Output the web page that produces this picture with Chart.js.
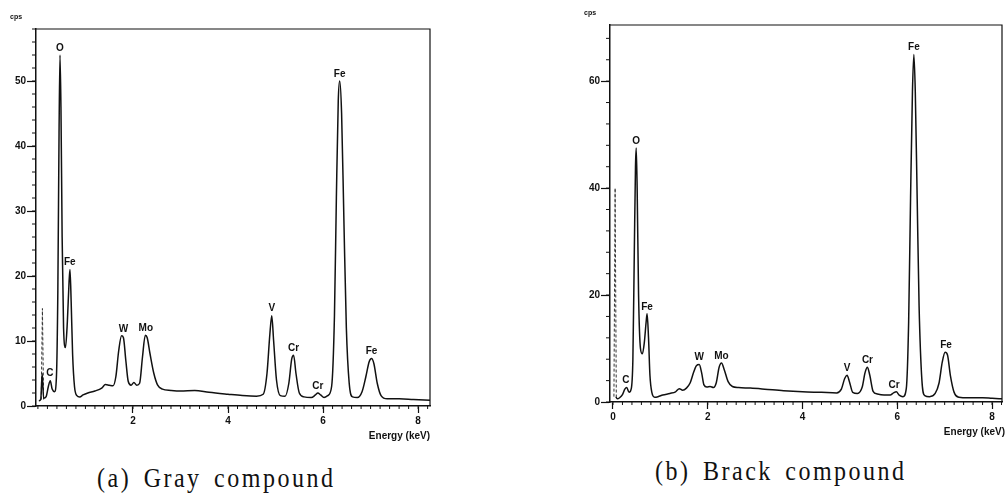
<!DOCTYPE html>
<html>
<head>
<meta charset="utf-8">
<script src="https://cdn.jsdelivr.net/npm/chart.js@4.4.0/dist/chart.umd.min.js"></script>
<style>
  body { margin: 0; background: #fff; width: 1006px; height: 499px; overflow: hidden; position: relative; }
  canvas { position: absolute; top: 0; }
  .caption { position: absolute; font-family: 'Liberation Serif', serif; font-size: 24px; letter-spacing: 2.5px; word-spacing: 4px; color: #111; white-space: nowrap; transform: scaleY(1.1); transform-origin: left top; }
</style>
</head>
<body>
<canvas id="chartA" width="445" height="450" style="left:0"></canvas>
<canvas id="chartB" width="432" height="450" style="left:574px"></canvas>
<div class="caption" style="left:97px; top:464px">(a) Gray compound</div>
<div class="caption" style="left:655px; top:457px">(b) Brack compound</div>
<script>
// (a) Gray compound - spectrum (keV, cps)
const energyA = [0.02, 0.06, 0.09, 0.12, 0.17, 0.22, 0.26, 0.30, 0.35, 0.39, 0.42, 0.445, 0.465, 0.485, 0.51, 0.54, 0.58, 0.62, 0.655, 0.675, 0.70, 0.73, 0.77, 0.82, 0.88, 0.95, 1.05, 1.2, 1.35, 1.42, 1.5, 1.58, 1.64, 1.70, 1.76, 1.80, 1.85, 1.90, 1.96, 2.02, 2.08, 2.14, 2.20, 2.26, 2.30, 2.36, 2.44, 2.52, 2.62, 2.8, 3.0, 3.3, 3.6, 4.0, 4.3, 4.6, 4.74, 4.82, 4.88, 4.92, 4.96, 5.02, 5.10, 5.20, 5.28, 5.34, 5.38, 5.43, 5.50, 5.60, 5.75, 5.84, 5.89, 5.95, 6.02, 6.10, 6.18, 6.24, 6.28, 6.32, 6.35, 6.39, 6.44, 6.49, 6.55, 6.62, 6.72, 6.82, 6.90, 6.97, 7.02, 7.07, 7.14, 7.22, 7.35, 7.6, 7.9, 8.25];
const cpsA = [0.8, 1.0, 5.0, 1.2, 1.4, 3.0, 3.9, 2.6, 2.2, 4.5, 18, 42, 54, 46, 26, 12, 9, 13, 19, 21, 16, 8, 3, 1.6, 1.4, 1.7, 2.0, 2.3, 2.8, 3.3, 3.2, 3.1, 4.5, 8.5, 10.8, 10.5, 7, 3.8, 3.2, 3.6, 3.2, 3.5, 7.5, 10.9, 10.5, 8, 5, 3.2, 2.6, 2.4, 2.3, 2.4, 2.1, 1.8, 1.6, 1.5, 1.8, 5, 11, 13.9, 10, 4, 1.6, 1.5, 3.5, 7.2, 7.8, 5, 2, 1.4, 1.3, 1.7, 2.0, 1.7, 1.3, 1.6, 3, 14, 32, 47, 50, 45, 28, 12, 3.5, 1.4, 1.3, 2.2, 4.5, 6.8, 7.3, 6.5, 3.5, 1.6, 1.1, 1.1, 1.0, 0.9];
const zeroEnergyA = [0.07, 0.095, 0.12];
const zeroCpsA = [1, 15, 1];
const peakNamesA = ['C', 'O', 'Fe', 'W', 'Mo', 'V', 'Cr', 'Cr', 'Fe', 'Fe'];
const peakEnergyA = [0.25, 0.465, 0.67, 1.8, 2.27, 4.92, 5.38, 5.89, 6.35, 7.02];
const peakCpsA = [3.9, 54, 21, 10.8, 10.9, 13.9, 7.8, 2.0, 50, 7.3];
const xTicksA = [2, 4, 6, 8];
const yTicksA = [0, 10, 20, 30, 40, 50];

// (b) Brack compound
const energyB = [0.06, 0.09, 0.14, 0.20, 0.25, 0.29, 0.34, 0.38, 0.42, 0.45, 0.475, 0.49, 0.51, 0.54, 0.58, 0.62, 0.66, 0.70, 0.72, 0.75, 0.78, 0.82, 0.88, 0.95, 1.05, 1.2, 1.32, 1.40, 1.47, 1.55, 1.63, 1.70, 1.76, 1.82, 1.87, 1.92, 1.98, 2.05, 2.12, 2.18, 2.24, 2.29, 2.35, 2.43, 2.52, 2.65, 2.9, 3.2, 3.6, 4.0, 4.4, 4.72, 4.82, 4.89, 4.94, 4.99, 5.06, 5.16, 5.26, 5.32, 5.37, 5.42, 5.49, 5.58, 5.72, 5.85, 5.92, 5.98, 6.04, 6.12, 6.19, 6.24, 6.28, 6.32, 6.35, 6.38, 6.42, 6.46, 6.52, 6.58, 6.68, 6.80, 6.88, 6.95, 7.01, 7.06, 7.12, 7.20, 7.30, 7.5, 7.8, 8.0, 8.21];
const cpsB = [1.0, 0.6, 0.8, 1.4, 2.4, 2.7, 1.8, 2.3, 8, 28, 44, 47.5, 40, 20, 10, 9, 11, 15, 16.5, 12, 5, 1.8, 0.9, 1.0, 1.3, 1.6, 1.9, 2.5, 2.2, 2.6, 3.6, 5.5, 6.8, 7.0, 5.5, 3.2, 2.8, 2.9, 2.7, 3.6, 6.5, 7.3, 6, 3.8, 2.9, 2.7, 2.6, 2.4, 2.1, 1.9, 1.8, 1.7, 2.4, 4.4, 5.0, 3.8, 1.8, 1.6, 2.8, 5.5, 6.5, 5, 2, 1.5, 1.3, 1.3, 1.7, 1.9, 1.3, 1.0, 2.5, 15, 38, 58, 65, 58, 38, 18, 4, 1.2, 1.0, 1.6, 3.5, 7.5, 9.3, 8.8, 5, 1.8, 0.9, 0.8, 0.8, 0.7, 0.6];
const zeroEnergyB = [0.02, 0.045, 0.07];
const zeroCpsB = [1, 40, 1];
const peakNamesB = ['C', 'O', 'Fe', 'W', 'Mo', 'V', 'Cr', 'Cr', 'Fe', 'Fe'];
const peakEnergyB = [0.27, 0.49, 0.72, 1.82, 2.29, 4.94, 5.37, 5.93, 6.35, 7.03];
const peakCpsB = [2.7, 47.5, 16.5, 7.0, 7.3, 5.0, 6.5, 1.9, 65, 9.3];
const xTicksB = [0, 2, 4, 6, 8];
const yTicksB = [0, 20, 40, 60];

const INK = '#111';
const FONT = '"Liberation Sans", Arial, sans-serif';

const edsPlugin = {
    id: 'eds',
    afterDraw(chart, args, opts) {
        const { ctx, chartArea: a, scales: { x, y } } = chart;
        ctx.save();
        ctx.strokeStyle = INK;
        ctx.lineWidth = 1.2;
        // box: top and right edges
        ctx.beginPath();
        ctx.moveTo(a.left, a.top);
        ctx.lineTo(a.right, a.top);
        ctx.lineTo(a.right, a.bottom);
        ctx.stroke();
        // minor ticks
        ctx.lineWidth = 1;
        ctx.beginPath();
        for (let i = 0; i * opts.minorX <= x.max; i++) {
            const px = x.getPixelForValue(i * opts.minorX);
            ctx.moveTo(px, a.bottom);
            ctx.lineTo(px, a.bottom + 3);
        }
        for (let i = 0; i * opts.minorY <= y.max; i++) {
            const py = y.getPixelForValue(i * opts.minorY);
            ctx.moveTo(a.left, py);
            ctx.lineTo(a.left - 4, py);
        }
        ctx.stroke();
        // peak labels
        ctx.fillStyle = INK;
        ctx.font = 'bold 10px ' + FONT;
        ctx.textAlign = 'center';
        ctx.textBaseline = 'bottom';
        opts.names.forEach((n, i) => {
            ctx.fillText(n, x.getPixelForValue(opts.energy[i]), y.getPixelForValue(opts.cps[i]) - 2);
        });
        // axis titles
        ctx.font = 'bold 7px ' + FONT;
        ctx.textAlign = 'left';
        ctx.textBaseline = 'middle';
        ctx.fillText('cps', a.left - 26, a.top - 12);
        ctx.font = 'bold 10px ' + FONT;
        ctx.textAlign = 'right';
        ctx.fillText('Energy (keV)', a.right + opts.titleDx, a.bottom + 30);
        ctx.restore();
    }
};

function makeChart(id, p) {
    return new Chart(document.getElementById(id), {
        type: 'line',
        data: {
            datasets: [{
                data: p.energy.map((e, i) => ({ x: e, y: p.cps[i] })),
                borderColor: INK,
                borderWidth: 1.5,
                pointRadius: 0,
                cubicInterpolationMode: 'monotone'
            }, {
                data: p.zeroE.map((e, i) => ({ x: e, y: p.zeroC[i] })),
                borderColor: '#333',
                borderWidth: 1,
                borderDash: [3, 2],
                pointRadius: 0
            }]
        },
        options: {
            responsive: false,
            animation: false,
            devicePixelRatio: 1,
            layout: { padding: p.padding },
            plugins: {
                legend: { display: false },
                tooltip: { enabled: false },
                eds: {
                    minorX: 0.2, minorY: p.minorY,
                    names: p.names, energy: p.peakE, cps: p.peakC,
                    titleDx: p.titleDx
                }
            },
            scales: {
                x: {
                    type: 'linear',
                    min: p.xMin, max: p.xMax,
                    afterBuildTicks: s => { s.ticks = p.xTicks.map(v => ({ value: v })); },
                    afterFit: s => { s.height = 24; },
                    border: { display: true, color: INK, width: 1.5 },
                    grid: { drawOnChartArea: false, drawTicks: true, tickLength: 7, tickColor: INK, tickWidth: 1.2 },
                    ticks: { color: INK, font: { family: FONT, size: 10, weight: 'bold' }, padding: 2, maxRotation: 0 }
                },
                y: {
                    min: 0, max: p.yMax,
                    afterBuildTicks: s => { s.ticks = p.yTicks.map(v => ({ value: v })); },
                    afterFit: s => { s.width = 36; },
                    border: { display: true, color: INK, width: 1.5 },
                    grid: { drawOnChartArea: false, drawTicks: true, tickLength: 9, tickColor: INK, tickWidth: 1.2 },
                    ticks: { color: INK, font: { family: FONT, size: 10, weight: 'bold' }, padding: 1 }
                }
            }
        },
        plugins: [edsPlugin]
    });
}

makeChart('chartA', {
    energy: energyA, cps: cpsA, zeroE: zeroEnergyA, zeroC: zeroCpsA,
    names: peakNamesA, peakE: peakEnergyA, peakC: peakCpsA,
    xTicks: xTicksA, yTicks: yTicksA,
    xMin: -0.04, xMax: 8.25, yMax: 58, minorY: 2,
    padding: { top: 29, right: 15, bottom: 20 }, titleDx: 0
});

makeChart('chartB', {
    energy: energyB, cps: cpsB, zeroE: zeroEnergyB, zeroC: zeroCpsB,
    names: peakNamesB, peakE: peakEnergyB, peakC: peakCpsB,
    xTicks: xTicksB, yTicks: yTicksB,
    xMin: -0.063, xMax: 8.21, yMax: 70.5, minorY: 4,
    padding: { top: 25, right: 4, bottom: 24 }, titleDx: 3
});
</script>
</body>
</html>
